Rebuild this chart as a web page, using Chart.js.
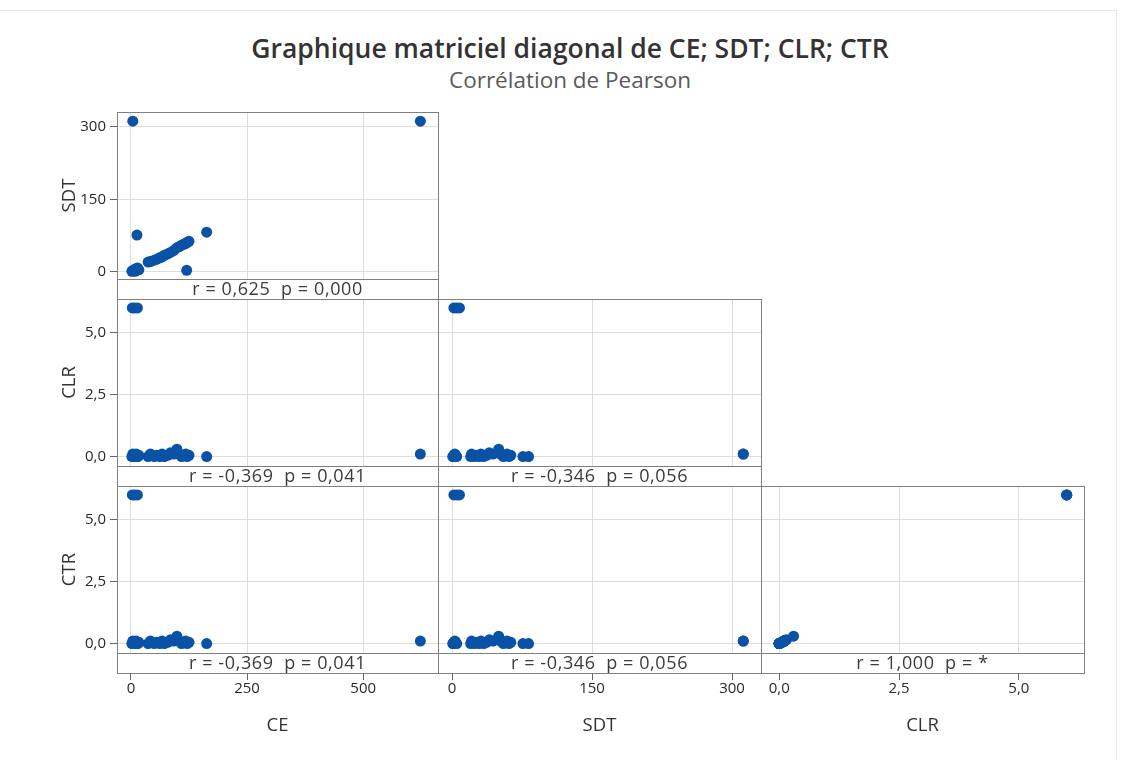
<!DOCTYPE html>
<html>
<head>
<meta charset="utf-8">
<script src="https://cdn.jsdelivr.net/npm/chart.js@4"></script>
<style>
html,body{margin:0;padding:0;background:#fff;}
#wrap{position:relative;width:1124px;height:760px;overflow:hidden;font-family:'Open Sans','Noto Sans',sans-serif;background:#fff;}
#frame{position:absolute;left:-1px;top:10px;width:1118px;height:760px;border:1px solid #e6e6e6;box-sizing:border-box;}
canvas{position:absolute;left:0;top:0;}
#title{position:absolute;left:0;width:1140px;top:31px;text-align:center;font-size:26.5px;line-height:34px;font-weight:600;color:#333;}
#subtitle{position:absolute;left:0;width:1140px;top:66px;text-align:center;font-size:22.5px;line-height:28px;font-weight:400;color:#5a5a5a;}
</style>
</head>
<body>
<div id="wrap">
  <div id="frame"></div>
  <div id="title">Graphique matriciel diagonal de CE; SDT; CLR; CTR</div>
  <div id="subtitle">Corrélation de Pearson</div>
</div>
<script>
// ---- data (31 observations) ----
const CE  = [4, 623, 3, 8, 14, 13, 163, 120, 2, 6, 9, 11, 15, 17, 37, 42, 50, 56, 62, 67, 72, 79, 85, 92, 99, 104, 109, 114, 118, 121, 125];
const SDT = [312, 312, 2, 5, 8, 76, 82, 3, 1, 2, 1, 3, 5, 4, 20, 21, 24, 26, 29, 31, 34, 37, 40, 44, 50, 52, 55, 57, 59, 61, 63];
const CLR = [0.1, 0.1, 6.0, 6.0, 6.0, 0.0, 0.0, 0.05, 0.0, 0.05, 0.0, 0.1, 0.0, 0.05, 0.0, 0.1, 0.0, 0.05, 0.0, 0.1, 0.0, 0.05, 0.15, 0.1, 0.3, 0.1, 0.0, 0.05, 0.1, 0.0, 0.05];
const CTR = [0.1, 0.1, 6.0, 6.0, 6.0, 0.0, 0.0, 0.05, 0.0, 0.05, 0.0, 0.1, 0.0, 0.05, 0.0, 0.1, 0.0, 0.05, 0.0, 0.1, 0.0, 0.05, 0.15, 0.1, 0.3, 0.1, 0.0, 0.05, 0.1, 0.0, 0.05];

// ---- ticks ----
const ceTicks  = [0, 250, 500];   const ceTickLabels  = ['0', '250', '500'];
const sdtTicks = [0, 150, 300];   const sdtTickLabels = ['0', '150', '300'];
const clrTicks = [0, 2.5, 5];     const clrTickLabels = ['0,0', '2,5', '5,0'];
const ctrTicks = [0, 2.5, 5];     const ctrTickLabels = ['0,0', '2,5', '5,0'];

// ---- correlation labels (panel order) ----
const stripLabels = [
  'r = 0,625  p = 0,000',
  'r = -0,369  p = 0,041',
  'r = -0,346  p = 0,056',
  'r = -0,369  p = 0,041',
  'r = -0,346  p = 0,056',
  'r = 1,000  p = *'
];

const vars = {
  CE:  {values: CE,  ticks: ceTicks,  labels: ceTickLabels,  min: -30,   max: 661},
  SDT: {values: SDT, ticks: sdtTicks, labels: sdtTickLabels, min: -15,   max: 331},
  CLR: {values: CLR, ticks: clrTicks, labels: clrTickLabels, min: -0.38, max: 6.36},
  CTR: {values: CTR, ticks: ctrTicks, labels: ctrTickLabels, min: -0.38, max: 6.36}
};

const panels = [
  {x: 'CE',  y: 'SDT', row: 0, col: 0},
  {x: 'CE',  y: 'CLR', row: 1, col: 0},
  {x: 'SDT', y: 'CLR', row: 1, col: 1},
  {x: 'CE',  y: 'CTR', row: 2, col: 0},
  {x: 'SDT', y: 'CTR', row: 2, col: 1},
  {x: 'CLR', y: 'CTR', row: 2, col: 2}
];

// ---- layout ----
const W = 1124, H = 760;
const colEdges = [117, 438, 761, 1084];
const rowTops = [112, 299, 486];
const plotH = 167, stripH = 20;
const YW = 61, XH = 87;
const POINT_COLOR = '#0a52a6';

Chart.defaults.font.family = "'Open Sans','Noto Sans',sans-serif";

const stripPlugin = {
  id: 'strip',
  afterDraw(chart, args, opts) {
    const {ctx, chartArea: a} = chart;
    const L = Math.round(a.left), R = Math.round(a.right), T = Math.round(a.top), B = Math.round(a.bottom);
    ctx.save();
    ctx.fillStyle = '#ffffff';
    ctx.fillRect(L, B, R - L, stripH);
    ctx.strokeStyle = '#808080';
    ctx.lineWidth = 1;
    ctx.strokeRect(L + 0.5, T + 0.5, R - L, B - T + stripH);
    ctx.beginPath();
    ctx.moveTo(L, B + 0.5);
    ctx.lineTo(R, B + 0.5);
    ctx.stroke();
    ctx.fillStyle = '#3c3c3c';
    ctx.font = "18px 'Open Sans','Noto Sans',sans-serif";
    try { ctx.letterSpacing = '0.6px'; } catch (e) {}
    ctx.textAlign = 'center';
    ctx.textBaseline = 'middle';
    ctx.fillText(opts.text, (L + R) / 2, B + stripH / 2 + 1);
    ctx.restore();
  }
};

const wrap = document.getElementById('wrap');

panels.forEach((p, k) => {
  const xv = vars[p.x], yv = vars[p.y];
  const showX = p.row === 2;
  const showY = p.col === 0;
  const cv = document.createElement('canvas');
  cv.width = W; cv.height = H;
  cv.style.width = W + 'px'; cv.style.height = H + 'px';
  wrap.appendChild(cv);
  const top = rowTops[p.row];
  const data = xv.values.map((v, i) => ({x: v, y: yv.values[i]}));
  new Chart(cv, {
    type: 'scatter',
    data: {datasets: [{data, backgroundColor: POINT_COLOR, borderColor: POINT_COLOR, borderWidth: 0, pointRadius: 5.5}]},
    plugins: [stripPlugin],
    options: {
      responsive: false,
      animation: false,
      events: [],
      layout: {padding: {
        left: colEdges[p.col] - (showY ? YW : 0),
        right: W - colEdges[p.col + 1],
        top: top,
        bottom: H - (top + plotH) - (showX ? XH : 0)
      }},
      plugins: {
        legend: {display: false},
        tooltip: {enabled: false},
        strip: {text: stripLabels[k]}
      },
      scales: {
        x: {
          type: 'linear', position: 'bottom', min: xv.min, max: xv.max,
          afterFit(s) { s.height = showX ? XH : 0; },
          afterBuildTicks(s) { s.ticks = xv.ticks.map(v => ({value: v})); },
          grid: {color: '#dedede', lineWidth: 1, drawTicks: showX, tickLength: stripH + 7, tickColor: '#666'},
          border: {display: false},
          ticks: {display: showX, padding: 0, color: '#2a2a2a', font: {size: 15}, maxRotation: 0, autoSkip: false,
                  callback: (v, i) => xv.labels[i]},
          title: {display: showX, text: p.x, color: '#333', font: {size: 18.5}, padding: {top: 0, bottom: 3}}
        },
        y: {
          type: 'linear', position: 'left', min: yv.min, max: yv.max,
          afterFit(s) { s.width = showY ? YW : 0; },
          afterBuildTicks(s) { s.ticks = yv.ticks.map(v => ({value: v})); },
          grid: {color: '#dedede', lineWidth: 1, drawTicks: showY, tickLength: 7, tickColor: '#666'},
          border: {display: false},
          ticks: {display: showY, padding: 4, color: '#2a2a2a', font: {size: 15}, autoSkip: false,
                  callback: (v, i) => yv.labels[i]},
          title: {display: showY, text: p.y, color: '#333', font: {size: 18.5}, padding: {top: 3, bottom: 0}}
        }
      }
    }
  });
});
</script>
</body>
</html>
